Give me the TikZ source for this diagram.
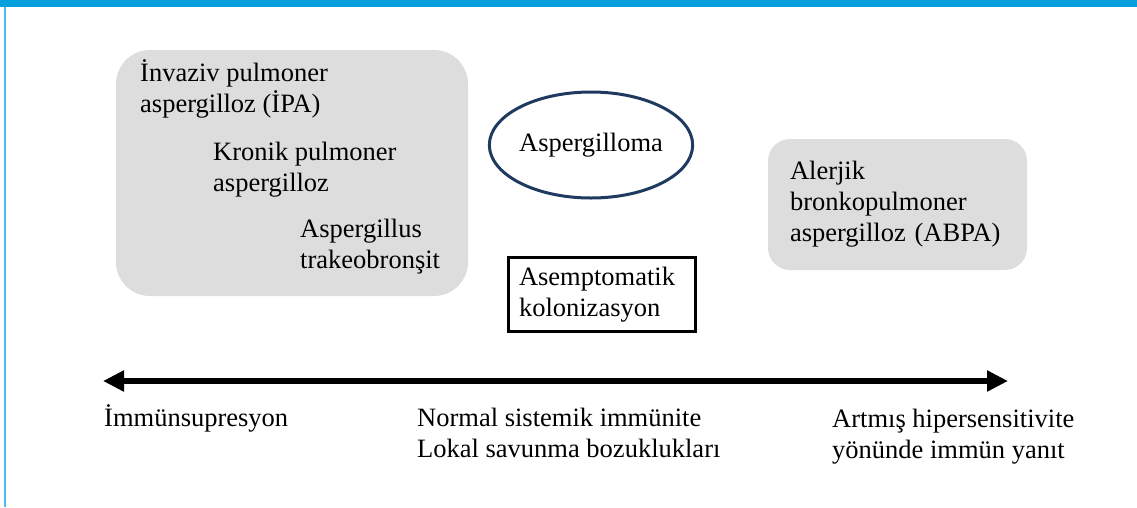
\documentclass[tikz,border=0pt]{standalone}
\usepackage{fontspec}
\setmainfont{Liberation Serif}
\usepackage{xcolor}
\usepackage{tikz}
\usetikzlibrary{arrows.meta,positioning,shapes.geometric}

\definecolor{barblue}{HTML}{07A0DC}
\definecolor{edgeblue}{HTML}{4DBDEB}
\definecolor{boxgray}{HTML}{DDDDDD}
\definecolor{ringnavy}{HTML}{1F3A5F}

\begin{document}
\begin{tikzpicture}[x=1pt,y=-1pt,
  txt/.style={inner sep=0pt,anchor=base west,align=left,font=\fontsize{26.5pt}{31pt}\selectfont},
  grp/.style={fill=boxgray,draw=none,rounded corners=#1},
  ring/.style={draw=ringnavy,line width=3pt,ellipse,inner sep=0pt,minimum width=187pt,minimum height=106pt,font=\fontsize{26.5pt}{31pt}\selectfont},
  frame/.style={draw,line width=3pt,align=left,minimum height=74pt,text width=166pt,inner xsep=10.5pt,inner ysep=0pt,font=\fontsize{26.5pt}{31pt}\selectfont},
  axis/.style={{Triangle[length=21pt,width=20pt]}-{Triangle[length=21pt,width=20pt]},line width=6pt}]
\useasboundingbox (0,0) rectangle (1137,507);
\fill[barblue] (0,0) rectangle (1137,7);
\fill[edgeblue] (4,7) rectangle (6,507);
% left group (base = last line)
\node[grp=34pt,minimum width=352pt,minimum height=246pt] (ipabox) at (292,173) {};
\node[txt] (ipa) at (140,112) {İnvaziv pulmoner\\aspergilloz (İPA)};
\node[txt] (kpa) at (213,191) {Kronik pulmoner\\aspergilloz};
\node[txt] (atb) at (300,268) {Aspergillus\\trakeobronşit};
% middle
\node[ring] (aspg) at (591,145) {Aspergilloma};
\node[frame] (kolon) at (602,294.5) {Asemptomatik\\kolonizasyon};
% right group
\node[grp=22pt,minimum width=259pt,minimum height=131pt,text width=215pt,inner xsep=22pt,inner ysep=0pt,align=left,font=\fontsize{26.5pt}{31pt}\selectfont] (abpa) at (897.5,204.5) {Alerjik\\bronkopulmoner\\aspergilloz (ABPA)};
% axis
\coordinate (lo) at (103,381);
\coordinate (hi) at (1008,381);
\draw[axis] (lo) -- (hi);
\node[txt] (supp) at (104,426) {İmmünsupresyon};
\node[txt] (norm) at (417,457) {Normal sistemik immünite\\Lokal savunma bozuklukları};
\node[txt] (hyper) at (832,458) {Artmış hipersensitivite\\yönünde immün yanıt};
\end{tikzpicture}
\end{document}
